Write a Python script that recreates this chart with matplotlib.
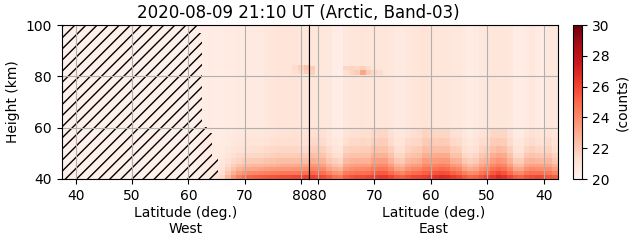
import numpy as np
import matplotlib
matplotlib.use('Agg')
import matplotlib.pyplot as plt

# height rows (km), bottom -> top
height_edges = [40, 41.5, 43, 44.5, 46, 48, 50, 53, 56, 60, 100]

# West side: 1-degree columns from 61.5 to 81.5 (centres 62..81), each a profile bottom -> top
west_lat_edges = np.arange(61.5, 82.0, 1.0)
west_counts = [
    [20.4, 20.4, 20.4, 20.4, 20.4, 20.4, 20.4, 20.4, 20.4, 20.4],  # 62
    [20.5, 20.5, 20.5, 20.5, 20.5, 20.5, 20.5, 20.5, 20.5, 20.5],  # 63
    [20.7, 20.6, 20.6, 20.6, 20.6, 20.6, 20.6, 20.6, 20.6, 20.6],  # 64
    [21.0, 20.9, 20.8, 20.7, 20.6, 20.6, 20.6, 20.5, 20.5, 20.5],  # 65
    [21.5, 21.2, 21.1, 20.9, 20.8, 20.7, 20.6, 20.6, 20.5, 20.5],  # 66
    [22.6, 22.1, 21.7, 21.4, 21.2, 21.0, 20.8, 20.7, 20.7, 20.6],  # 67
    [23.6, 22.8, 22.3, 21.8, 21.5, 21.2, 21.0, 20.8, 20.7, 20.6],  # 68
    [24.3, 23.4, 22.7, 22.2, 21.7, 21.4, 21.1, 20.9, 20.8, 20.7],  # 69
    [24.8, 23.7, 23.0, 22.4, 21.9, 21.5, 21.2, 21.0, 20.8, 20.7],  # 70
    [25.1, 24.0, 23.1, 22.5, 22.0, 21.5, 21.2, 21.0, 20.8, 20.7],  # 71
    [25.3, 24.1, 23.2, 22.6, 22.0, 21.6, 21.3, 21.0, 20.8, 20.7],  # 72
    [25.4, 24.2, 23.3, 22.6, 22.1, 21.6, 21.3, 21.0, 20.8, 20.7],  # 73
    [25.5, 24.3, 23.4, 22.7, 22.2, 21.7, 21.4, 21.1, 20.9, 20.8],  # 74
    [25.6, 24.4, 23.5, 22.8, 22.3, 21.8, 21.5, 21.2, 21.0, 20.9],  # 75
    [25.7, 24.5, 23.6, 22.9, 22.4, 21.9, 21.6, 21.3, 21.1, 21.0],  # 76
    [25.8, 24.6, 23.6, 23.0, 22.4, 21.9, 21.6, 21.3, 21.1, 21.0],  # 77
    [25.8, 24.6, 23.6, 23.0, 22.4, 21.9, 21.6, 21.3, 21.1, 21.0],  # 78
    [25.9, 24.6, 23.7, 23.0, 22.4, 21.9, 21.6, 21.3, 21.2, 21.0],  # 79
    [26.0, 24.7, 23.7, 23.0, 22.4, 21.9, 21.5, 21.2, 21.1, 20.9],  # 80
    [26.2, 24.8, 23.8, 23.1, 22.4, 21.9, 21.5, 21.2, 21.1, 20.9],  # 81
]

# East side: 1-degree columns from 81.5 down to 37.5 (centres 81..38)
east_lat_edges = np.arange(81.5, 37.0, -1.0)
east_counts = [
    [26.2, 25.1, 24.2, 23.6, 22.9, 22.4, 21.9, 21.5, 21.3, 20.9],  # 81
    [26.0, 24.9, 24.1, 23.5, 22.8, 22.3, 21.9, 21.5, 21.3, 20.9],  # 80
    [25.8, 24.8, 24.0, 23.3, 22.7, 22.2, 21.8, 21.4, 21.2, 20.8],  # 79
    [25.4, 24.2, 23.3, 22.7, 22.1, 21.7, 21.4, 21.1, 20.9, 20.8],  # 78
    [24.8, 23.7, 22.9, 22.3, 21.8, 21.3, 21.0, 20.8, 20.6, 20.5],  # 77
    [24.6, 23.5, 22.7, 22.1, 21.6, 21.2, 20.9, 20.7, 20.5, 20.4],  # 76
    [25.3, 24.4, 23.6, 23.1, 22.5, 22.1, 21.7, 21.3, 21.1, 20.8],  # 75
    [25.6, 24.6, 23.9, 23.3, 22.7, 22.2, 21.8, 21.5, 21.2, 20.9],  # 74
    [25.8, 24.8, 24.0, 23.4, 22.8, 22.3, 21.8, 21.5, 21.2, 20.9],  # 73
    [25.8, 24.8, 24.0, 23.4, 22.8, 22.3, 21.9, 21.6, 21.3, 21.0],  # 72
    [25.9, 24.9, 24.1, 23.4, 22.8, 22.3, 21.9, 21.5, 21.3, 20.9],  # 71
    [26.1, 25.2, 24.5, 23.9, 23.3, 22.8, 22.3, 21.8, 21.5, 20.9],  # 70
    [26.3, 25.4, 24.6, 24.0, 23.4, 22.8, 22.3, 21.9, 21.6, 20.9],  # 69
    [26.3, 25.4, 24.6, 24.0, 23.4, 22.8, 22.3, 21.9, 21.6, 20.9],  # 68
    [26.0, 24.9, 24.1, 23.4, 22.8, 22.3, 21.8, 21.4, 21.2, 20.8],  # 67
    [25.5, 24.3, 23.3, 22.7, 22.1, 21.6, 21.3, 21.0, 20.8, 20.7],  # 66
    [25.3, 24.1, 23.2, 22.6, 22.0, 21.6, 21.3, 21.0, 20.8, 20.7],  # 65
    [25.6, 24.6, 23.8, 23.2, 22.6, 22.1, 21.7, 21.4, 21.1, 20.8],  # 64
    [25.9, 24.9, 24.1, 23.4, 22.8, 22.3, 21.9, 21.5, 21.3, 20.9],  # 63
    [26.0, 25.0, 24.2, 23.5, 22.9, 22.4, 22.0, 21.6, 21.4, 21.0],  # 62
    [26.2, 25.3, 24.6, 24.0, 23.5, 22.9, 22.4, 22.0, 21.7, 21.1],  # 61
    [26.3, 25.4, 24.7, 24.0, 23.4, 22.9, 22.4, 22.0, 21.6, 21.0],  # 60
    [26.6, 25.6, 24.8, 24.2, 23.5, 23.0, 22.4, 21.9, 21.6, 20.9],  # 59
    [26.8, 25.8, 25.0, 24.3, 23.6, 23.0, 22.4, 22.0, 21.6, 20.9],  # 58
    [26.7, 25.7, 24.9, 24.2, 23.6, 23.0, 22.4, 21.9, 21.6, 20.9],  # 57
    [26.3, 25.2, 24.3, 23.6, 22.9, 22.3, 21.9, 21.5, 21.2, 20.8],  # 56
    [26.0, 24.9, 24.1, 23.4, 22.8, 22.3, 21.8, 21.4, 21.2, 20.8],  # 55
    [25.5, 24.3, 23.3, 22.7, 22.1, 21.6, 21.3, 21.0, 20.8, 20.7],  # 54
    [25.1, 23.9, 23.0, 22.4, 21.8, 21.4, 21.1, 20.8, 20.6, 20.5],  # 53
    [25.2, 24.0, 23.2, 22.6, 22.0, 21.6, 21.2, 21.0, 20.8, 20.7],  # 52
    [25.6, 24.6, 23.8, 23.2, 22.6, 22.1, 21.7, 21.4, 21.1, 20.8],  # 51
    [26.0, 24.9, 24.1, 23.4, 22.8, 22.3, 21.8, 21.4, 21.2, 20.8],  # 50
    [26.4, 25.5, 24.7, 24.0, 23.4, 22.9, 22.3, 21.9, 21.6, 20.9],  # 49
    [26.9, 25.9, 25.0, 24.3, 23.7, 23.1, 22.5, 22.0, 21.6, 20.9],  # 48
    [26.6, 25.6, 24.8, 24.2, 23.5, 23.0, 22.4, 21.9, 21.6, 20.9],  # 47
    [26.0, 24.9, 24.1, 23.4, 22.8, 22.3, 21.8, 21.4, 21.2, 20.8],  # 46
    [25.4, 24.1, 23.2, 22.5, 21.9, 21.4, 21.1, 20.8, 20.6, 20.5],  # 45
    [25.2, 24.0, 23.1, 22.4, 21.9, 21.4, 21.1, 20.8, 20.6, 20.5],  # 44
    [25.6, 24.6, 23.8, 23.2, 22.6, 22.1, 21.6, 21.3, 21.0, 20.7],  # 43
    [25.8, 24.8, 24.0, 23.3, 22.7, 22.2, 21.8, 21.4, 21.2, 20.8],  # 42
    [25.9, 24.8, 23.9, 23.3, 22.6, 22.1, 21.6, 21.2, 21.0, 20.6],  # 41
    [25.8, 24.7, 23.8, 23.2, 22.5, 22.0, 21.5, 21.1, 20.9, 20.5],  # 40
    [25.5, 24.5, 23.8, 23.2, 22.6, 22.1, 21.7, 21.4, 21.1, 20.8],  # 39
    [25.3, 24.1, 23.3, 22.7, 22.1, 21.7, 21.3, 21.1, 20.9, 20.8],  # 38
]

# small enhanced patches near 82 km
west_patch_lat_edges = [78.5, 79.5, 80.5, 81.5]
west_patch_height_edges = [81.0, 82.5, 84.5]
west_patch_counts = [[21.3, 21.5, 21.9],
                     [21.4, 21.8, 22.3]]
east_patch_lat_edges = np.arange(81.5, 68.0, -1.0)
east_patch_height_edges = [80.5, 82.5, 84.0]
nan = float('nan')
east_patch_counts = [[21.8, nan, nan, nan, nan, nan, 21.3, 21.6, 21.9, 23.2, 22.0, 21.6, 21.4],
                     [22.0, nan, nan, nan, nan, nan, 21.6, 21.7, 21.6, 21.8, 21.4, nan, nan]]

# no-data (hatched) region on the west side: height bands and latitude limit
hatch_height_edges = [40, 48.6, 57.9, 60.3, 96.9, 100]
hatch_lat_limit = [65.3, 64.2, 63.3, 62.4, 61.5]

lat_min, lat_max = 37.5, 81.5
vmin, vmax = 20, 30

fig = plt.figure(figsize=(6.31, 2.43), dpi=100)
axw = fig.add_axes([61.7 / 631, 64 / 243, 247.6 / 631, 154 / 243])
axe = fig.add_axes([309.3 / 631, 64 / 243, 248.4 / 631, 154 / 243])
cax = fig.add_axes([572.5 / 631, 64 / 243, 9.5 / 631, 154 / 243])

cmap = plt.get_cmap('Reds')
axw.set_facecolor(cmap(0.03))

mesh = axw.pcolormesh(west_lat_edges, height_edges, np.array(west_counts).T,
                      cmap=cmap, vmin=vmin, vmax=vmax)
axw.pcolormesh(west_patch_lat_edges, west_patch_height_edges, np.array(west_patch_counts),
               cmap=cmap, vmin=vmin, vmax=vmax)
axe.pcolormesh(east_lat_edges, height_edges, np.array(east_counts).T,
               cmap=cmap, vmin=vmin, vmax=vmax)
axe.pcolormesh(east_patch_lat_edges, east_patch_height_edges,
               np.ma.masked_invalid(np.array(east_patch_counts)),
               cmap=cmap, vmin=vmin, vmax=vmax)

for i, lat in enumerate(hatch_lat_limit):
    axw.fill_betweenx([hatch_height_edges[i], hatch_height_edges[i + 1]], lat_min, lat,
                      facecolor='none', edgecolor='black', hatch='///', linewidth=0)

axw.set_xlim(lat_min, lat_max)
axe.set_xlim(lat_max, lat_min)
for ax in (axw, axe):
    ax.set_ylim(40, 100)
    ax.set_yticks([40, 60, 80, 100])
    ax.grid(True)
axw.set_xticks([40, 50, 60, 70, 80])
axe.set_xticks([80, 70, 60, 50, 40])
axe.tick_params(axis='y', length=0, labelleft=False)

axw.set_ylabel('Height (km)')
axw.set_xlabel('Latitude (deg.)\nWest', labelpad=2)
axe.set_xlabel('Latitude (deg.)\nEast', labelpad=2)

fig.text(298 / 631, 1 - 18 / 243, '2020-08-09 21:10 UT (Arctic, Band-03)',
         ha='center', va='baseline', fontsize=12)

cb = fig.colorbar(mesh, cax=cax)
cb.set_ticks([20, 22, 24, 26, 28, 30])
cb.set_label('(counts)')

fig.savefig('out.png', dpi=100)
